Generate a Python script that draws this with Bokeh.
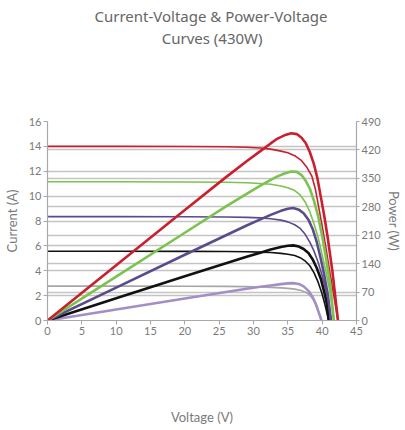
from bokeh.plotting import figure
from bokeh.models import Range1d, LinearAxis, FixedTicker, Grid, Title
from bokeh.embed import file_html
from bokeh.resources import INLINE

# ---- data ----
x_ticks = [0, 5, 10, 15, 20, 25, 30, 35, 40, 45]
current_ticks = [0, 2, 4, 6, 8, 10, 12, 14, 16]
power_ticks = [0, 70, 140, 210, 280, 350, 420, 490]

# I-V curves (Voltage V, Current A)
iv_red_v = [0, 10, 20, 26, 29, 31, 32.5, 34, 35, 36, 37, 37.8, 38.5, 39.0, 39.5, 40.0, 40.5, 41.0, 41.6, 42.3]
iv_red_i = [14.0, 14.0, 13.99, 13.97, 13.93, 13.87, 13.78, 13.62, 13.48, 13.25, 12.85, 12.3, 11.6, 10.6, 9.1, 7.6, 6.0, 4.3, 2.3, 0]

iv_green_v = [0, 10, 20, 26, 29, 31, 32.5, 34, 35, 36, 36.8, 37.5, 38.2, 38.8, 39.4, 40.0, 40.6, 41.2, 41.7]
iv_green_i = [11.15, 11.15, 11.13, 11.11, 11.07, 11.02, 10.95, 10.82, 10.68, 10.45, 10.1, 9.55, 8.75, 7.8, 6.7, 5.3, 3.8, 2.1, 0]

iv_purple_v = [0, 10, 20, 26, 29, 31, 32.5, 34, 35, 36, 36.8, 37.5, 38.2, 38.8, 39.4, 40.0, 40.6, 41.3]
iv_purple_i = [8.35, 8.35, 8.34, 8.32, 8.29, 8.25, 8.18, 8.07, 7.93, 7.7, 7.4, 6.95, 6.3, 5.6, 4.7, 3.6, 2.3, 0]

iv_black_v = [0, 10, 20, 26, 29, 31, 32.5, 34, 35, 36, 36.8, 37.5, 38.2, 38.8, 39.4, 39.9, 40.4, 40.95]
iv_black_i = [5.57, 5.57, 5.56, 5.55, 5.53, 5.5, 5.47, 5.4, 5.33, 5.22, 5.05, 4.8, 4.4, 3.85, 3.1, 2.3, 1.3, 0]

iv_gray_v = [0, 10, 20, 26, 29, 31, 32.5, 34, 35, 36, 36.8, 37.5, 38.2, 38.8, 39.3, 39.9]
iv_gray_i = [2.76, 2.76, 2.75, 2.74, 2.72, 2.69, 2.66, 2.62, 2.58, 2.52, 2.43, 2.3, 2.05, 1.6, 0.95, 0]

# P-V curves (Voltage V, Power W)
pv_red_v = [0, 10, 20, 26, 29, 31, 32.5, 33.5, 34.5, 35.5, 36.3, 37.0, 37.6, 38.2, 38.8, 39.3, 39.8, 40.3, 40.8, 41.5, 42.3]
pv_red_p = [0, 136, 272, 353, 392, 417, 436, 448, 456, 461, 459, 450, 437, 415, 385, 351, 305, 258, 205, 120, 0]

pv_green_v = [0, 10, 20, 26, 29, 31, 32.5, 33.5, 34.5, 35.5, 36.3, 37.0, 37.6, 38.2, 38.8, 39.4, 40.0, 40.6, 41.2, 41.7]
pv_green_p = [0, 108, 216, 281, 312, 332, 346, 355, 362, 367, 366, 358, 344, 325, 295, 258, 208, 150, 85, 0]

pv_purple_v = [0, 10, 20, 26, 29, 31, 32.5, 34, 35, 35.8, 36.6, 37.3, 38.0, 38.6, 39.2, 39.8, 40.3, 40.8, 41.3]
pv_purple_p = [0, 81, 162, 210, 234, 249, 260, 270, 275, 277, 273, 264, 248, 226, 194, 152, 112, 66, 0]

pv_black_v = [0, 10, 20, 26, 29, 31, 32.5, 34, 35, 35.8, 36.6, 37.3, 38.0, 38.6, 39.2, 39.8, 40.3, 40.7, 40.95]
pv_black_p = [0, 55, 109, 141, 157, 167, 175, 181, 184, 185, 182, 176, 166, 151, 130, 103, 70, 40, 0]

pv_lav_v = [0, 10, 20, 26, 29, 31, 32.5, 34, 35, 35.8, 36.6, 37.3, 38.0, 38.6, 39.1, 39.5, 39.9]
pv_lav_p = [0, 27, 54, 70, 78, 83, 86, 89.5, 91.5, 92, 90, 84, 73, 58, 40, 20, 0]

# ---- styling ----
RED = "#c8202e"
GREEN = "#7cc24e"
PURPLE = "#5b4b8c"
BLACK = "#111111"
LAV = "#a38fc6"
GRAY = "#a6a6a6"
GRID = "#c4c4c4"
AXIS = "#a8a8a8"
TXT = "#7a7a7a"
AXFONT = "Lato"

p = figure(frame_width=309, frame_height=199, output_backend="svg", toolbar_location=None,
           x_range=Range1d(0, 45), y_range=Range1d(0, 16),
           min_border_left=39, min_border_right=41, min_border_top=121, min_border_bottom=101,
           background_fill_color="white", border_fill_color="white", outline_line_color=None)

p.title.visible = False

xax = p.below[0]
yax = p.left[0]

# invisible spacer (white tick, blank label) between the plot frame and the two title lines
spacer = LinearAxis(ticker=FixedTicker(ticks=[0]), major_tick_out=74, major_tick_in=0,
                    axis_line_color=None, major_tick_line_color="white", minor_tick_line_color=None,
                    major_label_standoff=0, major_label_overrides={0: ""},
                    major_label_text_font_size="1px")
p.add_layout(spacer, "above")

t2 = Title(text="Curves (430W)", align="right", offset=94, text_font="Noto Sans",
           text_font_size="15px", text_font_style="normal", text_color="#666666", standoff=0)
t1 = Title(text="Current-Voltage & Power-Voltage", align="right", offset=29, text_font="Noto Sans",
           text_font_size="15px", text_font_style="normal", text_color="#666666", standoff=0)
p.add_layout(t2, "above")
p.add_layout(t1, "above")

p.extra_y_ranges = {"power": Range1d(0, 490)}

xax.ticker = FixedTicker(ticks=x_ticks)
yax.ticker = FixedTicker(ticks=current_ticks)
xax.axis_label = "Voltage (V)"
yax.axis_label = "Current (A)"

p.xgrid.visible = False
p.ygrid.ticker = FixedTicker(ticks=current_ticks)
p.ygrid.grid_line_color = GRID
p.ygrid.grid_line_width = 1.6
p.add_layout(Grid(dimension=1, ticker=FixedTicker(ticks=power_ticks), y_range_name="power",
                  grid_line_color=GRID, grid_line_width=1.6))

raxis = LinearAxis(y_range_name="power", ticker=FixedTicker(ticks=power_ticks), axis_label="Power (W)")
p.add_layout(raxis, "right")

for ax in [xax, yax, raxis]:
    ax.axis_line_color = AXIS
    ax.axis_line_width = 1.2
    ax.major_tick_line_color = AXIS
    ax.major_tick_out = 4
    ax.major_tick_in = 0
    ax.minor_tick_line_color = None
    ax.major_label_text_font = AXFONT
    ax.major_label_text_font_size = "11px"
    ax.major_label_text_color = TXT
    ax.axis_label_text_font = AXFONT
    ax.axis_label_text_font_size = "13px"
    ax.axis_label_text_font_style = "normal"
    ax.axis_label_text_color = TXT
    ax.major_label_standoff = 2

yax.axis_label_standoff = 6
raxis.major_tick_out = 3
raxis.axis_label_standoff = 2
xax.axis_label_standoff = 71

# I-V lines (thin)
p.line(iv_gray_v, iv_gray_i, line_color=GRAY, line_width=1.6, line_join="round")
p.line(iv_black_v, iv_black_i, line_color=BLACK, line_width=1.6, line_join="round")
p.line(iv_purple_v, iv_purple_i, line_color=PURPLE, line_width=1.6, line_join="round")
p.line(iv_green_v, iv_green_i, line_color=GREEN, line_width=1.6, line_join="round")
p.line(iv_red_v, iv_red_i, line_color=RED, line_width=1.6, line_join="round")

# P-V lines (thick)
p.line(pv_lav_v, pv_lav_p, line_color=LAV, line_width=2.6, y_range_name="power", line_join="round")
p.line(pv_black_v, pv_black_p, line_color=BLACK, line_width=2.6, y_range_name="power", line_join="round")
p.line(pv_purple_v, pv_purple_p, line_color=PURPLE, line_width=2.6, y_range_name="power", line_join="round")
p.line(pv_green_v, pv_green_p, line_color=GREEN, line_width=2.6, y_range_name="power", line_join="round")
p.line(pv_red_v, pv_red_p, line_color=RED, line_width=2.6, y_range_name="power", line_join="round")

open("out.html", "w").write(file_html(p, INLINE))
